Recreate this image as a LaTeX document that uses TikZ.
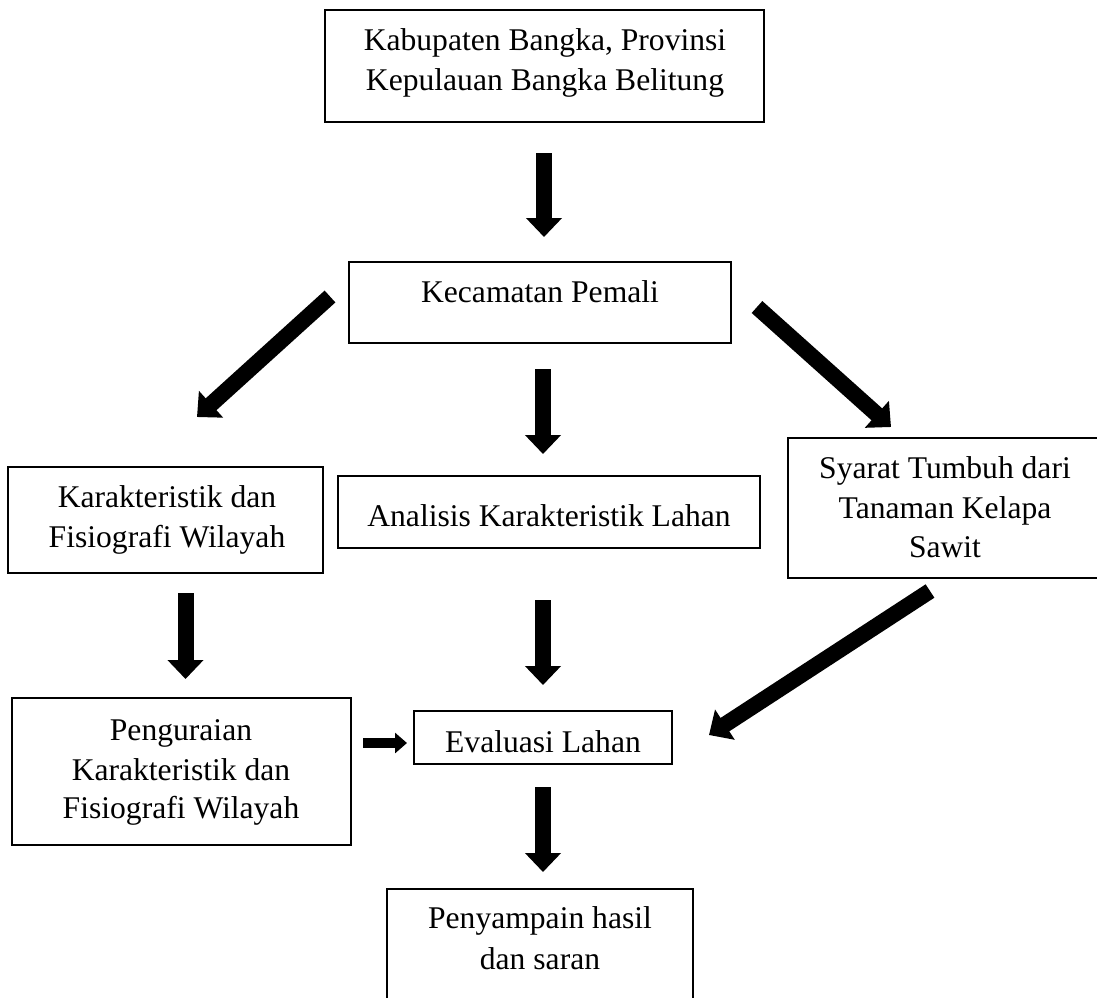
\documentclass[tikz,border=0pt]{standalone}
\usepackage{fontspec}
\setmainfont{Liberation Serif}
\usetikzlibrary{arrows.meta}
\begin{document}
\begin{tikzpicture}[x=1pt,y=-1pt,
  box/.style={draw=black, line width=1.6pt, inner sep=0pt, rectangle},
  txt/.style={anchor=base, inner sep=0pt, font=\fontsize{31.6}{39.5}\selectfont},
  fat/.style={line width=16pt, -{Triangle[width=35pt,length=19pt]}},
  slim/.style={line width=10pt, -{Triangle[width=20pt,length=12pt]}}]
\clip (0,0) rectangle (1097,997);
\fill[white] (0,0) rectangle (1097,997);
% boxes
\node[box, minimum width=439pt, minimum height=112pt] (top) at (544.5,66) {};
\node[box, minimum width=382pt, minimum height=81pt] (kec) at (540,302.5) {};
\node[box, minimum width=315pt, minimum height=106pt] (kar) at (165.5,520) {};
\node[box, minimum width=422pt, minimum height=72pt] (ana) at (549,512) {};
\node[box, minimum width=314pt, minimum height=140pt] (sya) at (945,508) {};
\node[box, minimum width=339pt, minimum height=147pt] (pen) at (181.5,771.5) {};
\node[box, minimum width=258pt, minimum height=53pt] (eva) at (543,737.5) {};
\node[box, minimum width=306pt, minimum height=121pt] (pny) at (540,949.5) {};
% texts
\node[txt] (top1) at (545,50) {Kabupaten Bangka, Provinsi};
\node[txt] (top2) at (545,90) {Kepulauan Bangka Belitung};
\node[txt] (kec1) at (540,302) {Kecamatan Pemali};
\node[txt] (kar1) at (167,507) {Karakteristik dan};
\node[txt] (kar2) at (167,547) {Fisiografi Wilayah};
\node[txt] (ana1) at (549,526) {Analisis Karakteristik Lahan};
\node[txt] (sya1) at (945,478) {Syarat Tumbuh dari};
\node[txt] (sya2) at (945,518) {Tanaman Kelapa};
\node[txt] (sya3) at (945,557) {Sawit};
\node[txt] (pen1) at (181,740) {Penguraian};
\node[txt] (pen2) at (181,780) {Karakteristik dan};
\node[txt] (pen3) at (181,818) {Fisiografi Wilayah};
\node[txt] (eva1) at (543,752) {Evaluasi Lahan};
\node[txt] (pny1) at (540,928) {Penyampain hasil};
\node[txt] (pny2) at (540,969) {dan saran};
% arrow end points
\coordinate (a1s) at (544,153);   \coordinate (a1e) at (544,237);
\coordinate (a2s) at (543,369);   \coordinate (a2e) at (543,454);
\coordinate (aLs) at (330,296.5); \coordinate (aLe) at (197,417);
\coordinate (aRs) at (757,307);   \coordinate (aRe) at (891,427);
\coordinate (aKs) at (185.5,593); \coordinate (aKe) at (185.5,679);
\coordinate (aAs) at (543,600);   \coordinate (aAe) at (543,685);
\coordinate (aSs) at (930,591);   \coordinate (aSe) at (709,735);
\coordinate (aHs) at (363,743);   \coordinate (aHe) at (407,743);
\coordinate (aEs) at (543,787);   \coordinate (aEe) at (543,872);
% arrows
\draw[fat] (a1s) -- (a1e);
\draw[fat] (a2s) -- (a2e);
\draw[fat] (aLs) -- (aLe);
\draw[fat] (aRs) -- (aRe);
\draw[fat] (aKs) -- (aKe);
\draw[fat] (aAs) -- (aAe);
\draw[fat] (aSs) -- (aSe);
\draw[slim] (aHs) -- (aHe);
\draw[fat] (aEs) -- (aEe);
\end{tikzpicture}
\end{document}
